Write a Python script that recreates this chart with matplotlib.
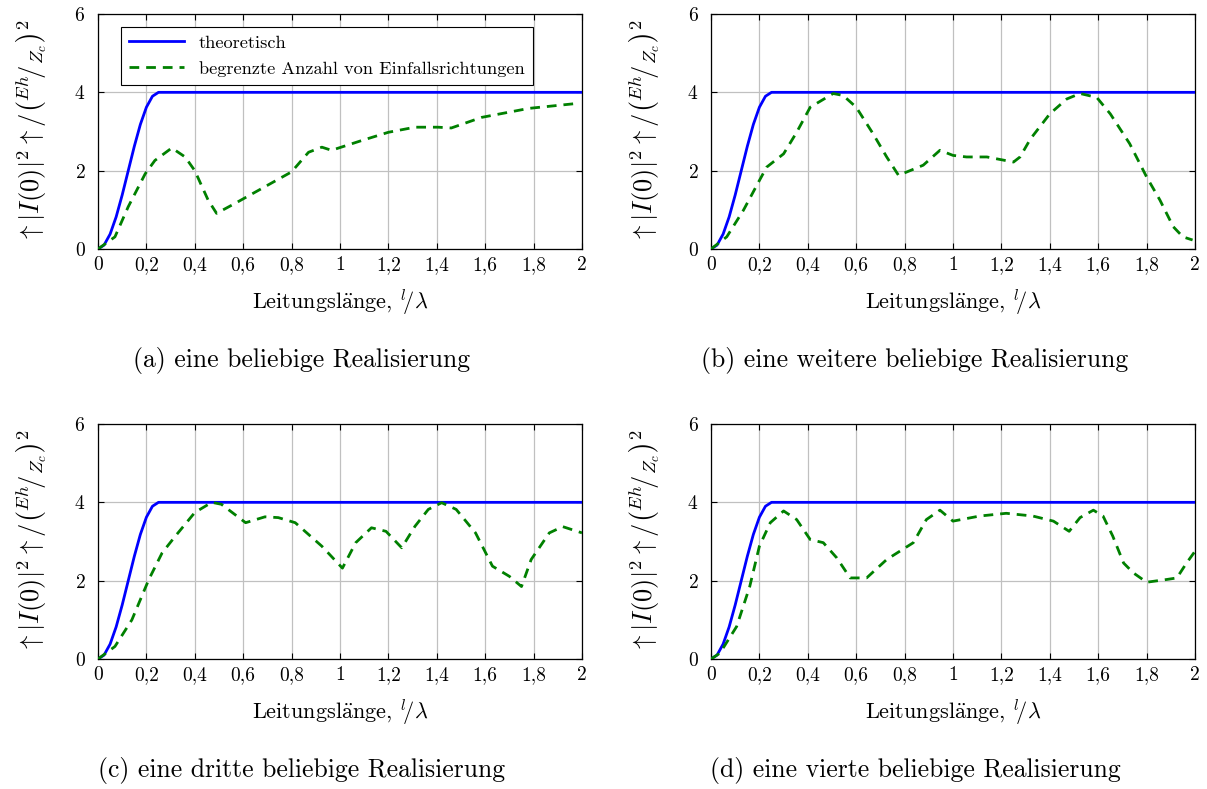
import numpy as np
import matplotlib
matplotlib.use("Agg")
import matplotlib.pyplot as plt

plt.rcParams['font.family'] = ['cmr10', 'DejaVu Serif']
plt.rcParams['mathtext.fontset'] = 'cm'
plt.rcParams['axes.unicode_minus'] = False
plt.rcParams['axes.formatter.use_mathtext'] = True

# theoretische Kurve (gleich fuer alle vier Teilbilder)
theo_l = [0, 0.025, 0.05, 0.075, 0.1, 0.125, 0.15, 0.175, 0.2, 0.225, 0.25, 2.0]
theo_v = [0, 0.10, 0.38, 0.82, 1.38, 2.0, 2.62, 3.18, 3.62, 3.90, 4.0, 4.0]

# (a)
a_l = [0, 0.07, 0.125, 0.195, 0.235, 0.305, 0.36, 0.4, 0.455, 0.49, 0.565, 0.8,
       0.87, 0.925, 0.965, 1.09, 1.2, 1.31, 1.405, 1.46, 1.585, 1.78, 1.985]
a_v = [0, 0.31, 1.08, 1.92, 2.26, 2.58, 2.35, 2.0, 1.25, 0.91, 1.16, 1.97,
       2.47, 2.6, 2.52, 2.77, 2.98, 3.11, 3.11, 3.09, 3.36, 3.59, 3.72]

# (b)
b_l = [0, 0.065, 0.134, 0.2, 0.23, 0.3, 0.354, 0.41, 0.505, 0.546, 0.6, 0.67,
       0.726, 0.775, 0.877, 0.946, 1.0, 1.056, 1.14, 1.25, 1.277, 1.32, 1.4,
       1.47, 1.525, 1.594, 1.65, 1.73, 1.8, 1.855, 1.91, 1.95, 1.99]
b_v = [0, 0.31, 0.99, 1.75, 2.09, 2.43, 2.98, 3.62, 3.97, 3.92, 3.62, 2.94,
       2.35, 1.88, 2.14, 2.52, 2.39, 2.35, 2.35, 2.22, 2.35, 2.81, 3.45,
       3.83, 3.97, 3.87, 3.45, 2.69, 1.84, 1.25, 0.57, 0.31, 0.23]

# (c)
c_l = [0, 0.07, 0.14, 0.21, 0.265, 0.32, 0.4, 0.47, 0.51, 0.61, 0.69, 0.745,
       0.815, 0.925, 1.01, 1.065, 1.13, 1.19, 1.255, 1.31, 1.365, 1.42, 1.48,
       1.56, 1.63, 1.7, 1.75, 1.79, 1.865, 1.92, 2.0]
c_v = [0, 0.32, 1.0, 2.03, 2.71, 3.14, 3.74, 4.0, 3.95, 3.48, 3.63, 3.61,
       3.48, 2.88, 2.32, 2.97, 3.35, 3.26, 2.84, 3.39, 3.82, 3.99, 3.82,
       3.22, 2.37, 2.11, 1.85, 2.54, 3.22, 3.38, 3.22]

# (d)
d_l = [0, 0.037, 0.106, 0.16, 0.2, 0.245, 0.3, 0.354, 0.41, 0.464, 0.52, 0.575,
       0.643, 0.726, 0.836, 0.89, 0.946, 1.0, 1.11, 1.22, 1.33, 1.415, 1.48,
       1.525, 1.58, 1.62, 1.66, 1.705, 1.745, 1.8, 1.883, 1.925, 1.965, 2.0]
d_v = [0, 0.15, 0.83, 1.85, 2.88, 3.48, 3.78, 3.56, 3.05, 2.97, 2.58, 2.07,
       2.07, 2.54, 2.97, 3.56, 3.80, 3.52, 3.65, 3.72, 3.65, 3.52, 3.26,
       3.61, 3.80, 3.65, 3.14, 2.45, 2.20, 1.96, 2.03, 2.07, 2.45, 2.75]

x_ticks = [0, 0.2, 0.4, 0.6, 0.8, 1.0, 1.2, 1.4, 1.6, 1.8, 2.0]
x_ticklabels = ['0', '0,2', '0,4', '0,6', '0,8', '1', '1,2', '1,4', '1,6', '1,8', '2']
y_ticks = [0, 2, 4, 6]

captions = ['(a) eine beliebige Realisierung',
            '(b) eine weitere beliebige Realisierung',
            '(c) eine dritte beliebige Realisierung',
            '(d) eine vierte beliebige Realisierung']
series = [(a_l, a_v), (b_l, b_v), (c_l, c_v), (d_l, d_v)]

fig = plt.figure(figsize=(12.07, 7.89), dpi=100)
W, H = 1207, 789
# Achsenpositionen in Pixel (links, oben)
boxes = [(98, 14), (711, 14), (98, 424), (711, 424)]
aw, ah = 484, 235

ylabel = r'$\uparrow|I(0)|^2\uparrow/\left({}^{Eh}\!/{}_{Z_c}\right)^2$'
xlabel = r'Leitungsl$\ddot{\mathrm{a}}$nge, ${}^{l}\!/\lambda$'

for i, ((px, py), (gl, gv)) in enumerate(zip(boxes, series)):
    ax = fig.add_axes([px / W, 1 - (py + ah) / H, aw / W, ah / H])
    ax.plot(theo_l, theo_v, color='#0000ff', lw=2, label='theoretisch', zorder=3)
    ax.plot(gl, gv, color='#008000', lw=2, dashes=(3.5, 2.5),
            label='begrenzte Anzahl von Einfallsrichtungen', zorder=3)
    ax.set_xlim(0, 2)
    ax.set_ylim(0, 6)
    ax.set_xticks(x_ticks)
    ax.set_xticklabels(x_ticklabels)
    ax.set_yticks(y_ticks)
    ax.grid(True, color='#c0c0c0', lw=0.9)
    ax.tick_params(direction='in', length=4, labelsize=14, top=True, right=True, width=0.8)
    ax.tick_params(axis='x', pad=5)
    ax.tick_params(axis='y', pad=9)
    for s in ax.spines.values():
        s.set_linewidth(0.9)
    ax.set_xlabel(xlabel, fontsize=16, labelpad=10)
    ax.set_ylabel(ylabel, fontsize=19, labelpad=18)
    # Unterschrift ist auf das Teilbild inkl. y-Beschriftung zentriert
    cap_x = (px - 38 + aw / 2) / W
    cap_y = 1 - (py + ah + 111) / H
    fig.text(cap_x, cap_y, captions[i], ha='center', va='center', fontsize=18.5)
    if i == 0:
        leg = ax.legend(loc='upper left', fontsize=13.2, fancybox=False,
                        edgecolor='black', framealpha=1, handlelength=3.0,
                        borderpad=0.45, labelspacing=0.55,
                        bbox_to_anchor=(0.028, 0.985))
        leg.get_frame().set_linewidth(0.8)

fig.savefig('out.png', dpi=100)
